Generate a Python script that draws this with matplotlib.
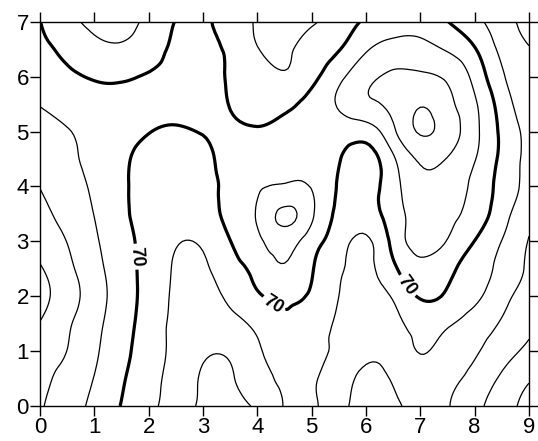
import numpy as np
import matplotlib.pyplot as plt
import matplotlib.tri as mtri

plt.rcParams["font.family"] = ["Liberation Sans", "DejaVu Sans"]

x_vals = [0, 0.5, 1, 1.5, 2, 2.5, 3, 3.5, 4, 4.5, 5, 5.5, 6, 6.5, 7, 7.5, 8, 8.5, 9]
y_vals = [0, 0.5, 1, 1.5, 2, 2.5, 3, 3.5, 4, 4.5, 5, 5.5, 6, 6.5, 7]

# surface values, one list per row of y
z_y0_0 = [91, 84.4, 77.7, 69.6, 62.2, 55.6, 48.5, 48, 51.5, 60.5, 61.5, 53, 47, 48.5, 52, 50.5, 43, 34.4, 27]
z_y0_5 = [92.5, 86.8, 79.7, 71.3, 63.3, 56.3, 49, 49, 56.2, 61.5, 61, 54.7, 48, 51, 56, 53, 46.9, 38.5, 31]
z_y1_0 = [94, 89.9, 81.6, 73.1, 64.6, 57.5, 51.5, 51.5, 58.5, 64, 63, 57.5, 52, 54.5, 60.3, 56.5, 51.2, 44.3, 38]
z_y1_5 = [99.5, 91.5, 82.9, 74.1, 65.5, 58, 56, 57.5, 62.5, 68.5, 64, 59, 55, 57.5, 63, 61.2, 55.6, 49, 42]
z_y2_0 = [103, 94.6, 84.7, 75.1, 66.3, 58.5, 57.5, 61.6, 68.8, 72, 68.5, 60, 57, 61, 71, 68.5, 62.2, 53.3, 46]
z_y2_5 = [101, 92.5, 83.3, 74.5, 66.4, 59, 58.5, 65.8, 73.5, 79, 70.8, 61.5, 58, 67.7, 77.5, 72.5, 65.4, 57, 48.5]
z_y3_0 = [95.5, 89.8, 81.5, 73.5, 66.5, 60.8, 61.5, 69.8, 78, 84, 74.5, 64.4, 58.5, 73, 83, 79.5, 69.8, 59.8, 49.5]
z_y3_5 = [92.5, 86.8, 79.8, 72.2, 66, 64, 66, 72.6, 81, 92, 81.7, 67.5, 65.5, 75, 84, 82.5, 76, 64, 53]
z_y4_0 = [89.8, 84.3, 78.4, 71.7, 66.5, 65, 67, 73, 79, 81, 79.5, 69, 66.5, 76, 87, 85.5, 77.7, 66.4, 57]
z_y4_5 = [87, 82, 77.4, 72, 67, 66, 67.5, 74, 77, 77, 76, 70.6, 66, 78.5, 91.5, 89.5, 80.5, 67.7, 57]
z_y5_0 = [83.5, 80.5, 77, 73.5, 70.3, 69, 70.5, 71.5, 71, 73, 74.5, 75, 75, 88, 100.8, 95.5, 82.7, 68, 57]
z_y5_5 = [79.5, 76, 74, 73, 72.5, 72.5, 72.5, 69.8, 67.5, 68, 73.5, 81, 88, 92.5, 99.3, 93, 81.4, 65.6, 54]
z_y6_0 = [73.5, 71.5, 69.2, 68.8, 70.8, 72.5, 72.5, 69.3, 65.5, 61, 67, 77.4, 87, 91.5, 91.5, 88.5, 77, 61.5, 53]
z_y6_5 = [71.5, 68, 63, 61.5, 65.5, 71.5, 71.5, 68.5, 60.5, 58.5, 63.6, 69.5, 79, 83.5, 83.5, 79, 70.7, 57.5, 50.5]
z_y7_0 = [70.2, 63.2, 57.5, 57, 62.5, 70.3, 71.5, 65.4, 59, 56.5, 59, 64.7, 71.5, 76, 75.5, 70.2, 62.8, 54.4, 47]

thin_levels = [30, 40, 50, 60, 80, 90, 100]
bold_levels = [70]

Z = np.array([z_y0_0, z_y0_5, z_y1_0, z_y1_5, z_y2_0, z_y2_5, z_y3_0, z_y3_5,
              z_y4_0, z_y4_5, z_y5_0, z_y5_5, z_y6_0, z_y6_5, z_y7_0])
X, Y = np.meshgrid(x_vals, y_vals)

# smooth the contours with matplotlib's own triangle refiner
tri = mtri.Triangulation(X.ravel(), Y.ravel())
refiner = mtri.UniformTriRefiner(tri)
tri_fine, z_fine = refiner.refine_field(Z.ravel(), subdiv=3)

fig = plt.figure(figsize=(5.38, 4.41), dpi=100)
ax = fig.add_axes([0.0743, 0.0794, 0.909, 0.871])

ax.tricontour(tri_fine, z_fine, levels=thin_levels, colors="black", linewidths=0.9)
cs = ax.tricontour(tri_fine, z_fine, levels=bold_levels, colors="black", linewidths=2.3)
ax.clabel(cs, fmt="%d", fontsize=13, inline=True, inline_spacing=3,
          manual=[(1.75, 2.72), (4.3, 1.85), (6.8, 2.22)])
for t in cs.labelTexts:
    t.set_fontweight("bold")

ax.set_xlim(0, 9)
ax.set_ylim(0, 7)
ax.set_xticks(range(0, 10))
ax.set_yticks(range(0, 8))
ax.tick_params(direction="out", length=7, width=1, labelsize=16, pad=1,
               top=True, right=True, colors="black")
for s in ax.spines.values():
    s.set_linewidth(1)

plt.savefig("out.png", dpi=100)
